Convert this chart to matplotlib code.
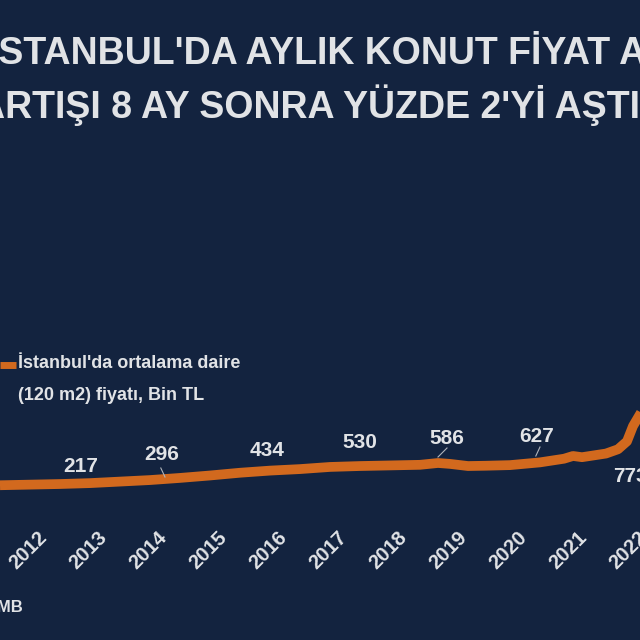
import matplotlib.pyplot as plt

# monthly average price of a 120 m2 flat in Istanbul, thousand TL
t = [2011.5, 2012.0, 2012.5, 2013.0, 2013.5, 2014.0, 2014.5, 2015.0, 2015.5, 2016.0,
     2016.5, 2017.0, 2017.5, 2018.0, 2018.5, 2018.8, 2019.0, 2019.3, 2019.6, 2020.0,
     2020.5, 2020.9, 2021.05, 2021.2, 2021.6, 2021.8, 2021.95, 2022.05, 2022.2]
price = [180, 190, 200, 215, 240, 265, 300, 340, 385, 420,
         445, 480, 495, 505, 515, 545, 530, 495, 500, 510,
         555, 615, 660, 640, 700, 770, 900, 1150, 1400]
years = list(range(2012, 2023))
lbl_x = [2012.85, 2014.2, 2015.95, 2017.5, 2018.95, 2020.45, 2022.0]
lbl_txt = ['217', '296', '434', '530', '586', '627', '773']
lbl_px = [466, 455, 450, 442, 438, 436, 476]

BG = '#13233f'
ORANGE = '#d2691e'
TXT = '#e1e3e6'
FONT = 'Liberation Sans'

# pixel <-> data mapping for a full-figure axes
SLOPE = 16.4          # thousand TL per pixel
V0, P0 = 184, 485     # value 184 sits at pixel row 485
def vy(px):
    return V0 + (P0 - px) * SLOPE
def xp(px):
    return 2011.5 + px / 60.0

fig = plt.figure(figsize=(6.4, 6.4), dpi=100)
fig.patch.set_facecolor(BG)
ax = fig.add_axes([0, 0, 1, 1])
ax.set_facecolor(BG)
ax.set_xlim(xp(0), xp(640))
ax.set_ylim(vy(640), vy(0))
ax.axis('off')

ax.plot(t, price, color=ORANGE, lw=7, solid_capstyle='butt')

for x, s, p in zip(lbl_x, lbl_txt, lbl_px):
    ax.text(x, vy(p), s, ha='center', va='center', color=TXT,
            fontsize=15, fontweight='bold', family=FONT)
# small leader lines
for x0, p0, x1, p1 in [(2014.18, 468, 2014.25, 477), (2018.95, 448, 2018.8, 457),
                       (2020.5, 447, 2020.43, 456)]:
    ax.plot([x0, x1], [vy(p0), vy(p1)], color='#b0b4bb', lw=0.8)

for y in years:
    ax.text(y + 0.35, vy(528), str(y), rotation=45, ha='right', va='top',
            color=TXT, fontsize=14.5, fontweight='bold', family=FONT)

fig.text(-12, 640 - 52, "İSTANBUL'DA AYLIK KONUT FİYAT ARTIŞI",
         transform=None, ha='left', va='center', color=TXT,
         fontsize=27, fontweight='bold', family=FONT)
fig.text(-22, 640 - 105, "ARTIŞI 8 AY SONRA YÜZDE 2'Yİ AŞTI",
         transform=None, ha='left', va='center', color=TXT,
         fontsize=27, fontweight='bold', family=FONT)

# legend
ax.plot([xp(0), xp(16)], [vy(365), vy(365)], color=ORANGE, lw=5, solid_capstyle='butt')
ax.text(xp(18), vy(363), "İstanbul'da ortalama daire", ha='left', va='center',
        color=TXT, fontsize=13, fontweight='bold', family=FONT)
ax.text(xp(18), vy(395), "(120 m2) fiyatı, Bin TL", ha='left', va='center',
        color=TXT, fontsize=13, fontweight='bold', family=FONT)

ax.text(xp(-24), vy(607), 'TCMB', ha='left', va='center',
        color=TXT, fontsize=12, fontweight='bold', family=FONT)

fig.savefig('out.png', dpi=100, facecolor=BG)
